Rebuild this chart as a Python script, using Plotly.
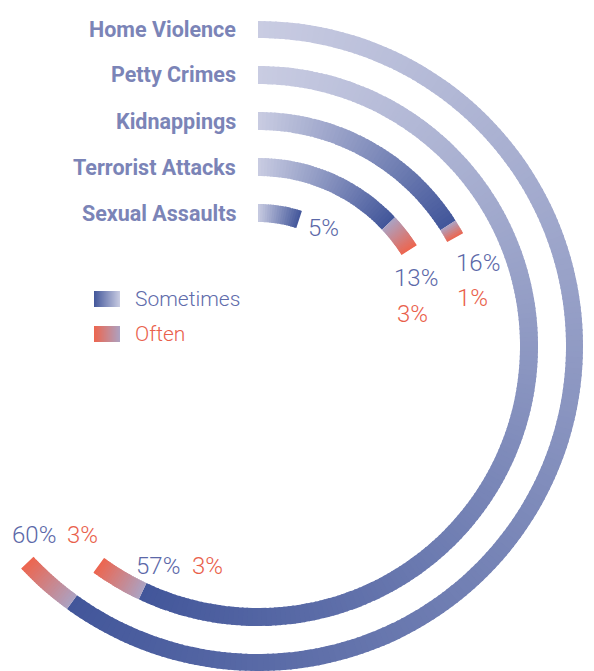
import plotly.graph_objects as go

# ---------------- data ----------------
categories = ["Home Violence", "Petty Crimes", "Kidnappings", "Terrorist Attacks", "Sexual Assaults"]
sometimes = [60, 57, 16, 13, 5]
often = [3, 3, 1, 3, 0]
series_names = ["Sometimes", "Often"]

# ---------------- style / layout ----------------
PAGE_W, PAGE_H = 594, 671
OFF = 8                    # default body margin of the html page
W, H = PAGE_W - OFF, PAGE_H - OFF
CX, CY = 258, 346          # page-pixel centre of the rings
R_MAX = 325                # pixel radius of the polar range
R_OUTER = 317              # centre radius of outermost ring
STEP = 46                  # ring spacing
THICK = 18                 # ring thickness

SOME_START = (201, 204, 226)
SOME_END = (66, 86, 154)
OFTEN_START = (172, 162, 194)
OFTEN_END = (237, 101, 78)

LABEL_COLOR = "#7b84b7"
BLUE_TXT = "#5b68a8"
RED_TXT = "#e9604b"
FONT = "Roboto, 'Liberation Sans', sans-serif"


def lerp(c0, c1, t):
    return "rgb(%d,%d,%d)" % tuple(round(a + (b - a) * t) for a, b in zip(c0, c1))


def segments(start_deg, end_deg, c0, c1, per_deg=1.0):
    span = end_deg - start_deg
    n = max(4, int(round(span / per_deg)))
    step = span / n
    thetas, widths, colors = [], [], []
    for k in range(n):
        a0 = start_deg + k * step
        a1 = a0 + step
        ext = 0.35 if k < n - 1 else 0.0
        thetas.append((a0 + a1 + ext) / 2)
        widths.append(step + ext)
        colors.append(lerp(c0, c1, (k + 0.5) / n))
    return thetas, widths, colors


def px(x, y):
    """page pixel -> paper fraction"""
    return (x - OFF) / W, 1 - (y - OFF) / H


fig = go.Figure()

for i, cat in enumerate(categories):
    rc = R_OUTER - i * STEP
    s_deg = sometimes[i] * 3.6
    o_deg = often[i] * 3.6
    th, wd, col = segments(0, s_deg, SOME_START, SOME_END)
    fig.add_trace(go.Barpolar(
        theta=th, width=wd, r=[THICK] * len(th), base=[rc - THICK / 2] * len(th),
        marker=dict(color=col, line=dict(width=0)), hoverinfo="skip", showlegend=False,
        name=cat + " " + series_names[0]))
    if often[i] > 0:
        th, wd, col = segments(s_deg, s_deg + o_deg, OFTEN_START, OFTEN_END, per_deg=0.5)
        fig.add_trace(go.Barpolar(
            theta=th, width=wd, r=[THICK] * len(th), base=[rc - THICK / 2] * len(th),
            marker=dict(color=col, line=dict(width=0)), hoverinfo="skip", showlegend=False,
            name=cat + " " + series_names[1]))

annotations = []

# category labels, aligned with ring centres
for i, cat in enumerate(categories):
    rc = R_OUTER - i * STEP
    x, y = px(238, CY - rc)
    annotations.append(dict(x=x, y=y, xref="paper", yref="paper", text="<b>%s</b>" % cat,
                            xanchor="right", yanchor="middle", showarrow=False,
                            font=dict(family=FONT, size=21.5, color=LABEL_COLOR)))

# value label anchors (page pixels): (sometimes_xy, often_xy)
value_pos = {
    "Home Violence": ((10, 535), (65, 535)),
    "Petty Crimes": ((134, 566), (190, 566)),
    "Kidnappings": ((454, 263), (455, 298)),
    "Terrorist Attacks": ((392, 278), (395, 314)),
    "Sexual Assaults": ((306, 228), None),
}
for i, cat in enumerate(categories):
    sp, op = value_pos[cat]
    x, y = px(*sp)
    annotations.append(dict(x=x, y=y, xref="paper", yref="paper", text="%d%%" % sometimes[i],
                            xanchor="left", yanchor="middle", showarrow=False,
                            font=dict(family=FONT, size=24, color=BLUE_TXT, weight=300)))
    if often[i] > 0 and op is not None:
        x, y = px(*op)
        annotations.append(dict(x=x, y=y, xref="paper", yref="paper", text="%d%%" % often[i],
                                xanchor="left", yanchor="middle", showarrow=False,
                                font=dict(family=FONT, size=24, color=RED_TXT, weight=300)))

# legend
shapes = []
legend_rows = [(299, SOME_END, SOME_START, "#5f6cab"), (334, OFTEN_END, OFTEN_START, RED_TXT)]
for name, (yc, c0, c1, tc) in zip(series_names, legend_rows):
    n = 26
    x0, x1 = 94, 120
    for k in range(n):
        a = x0 + (x1 - x0) * k / n
        b = min(x0 + (x1 - x0) * (k + 1) / n + 0.3, x1)
        xa, ya = px(a, yc - 8)
        xb, yb = px(b, yc + 8)
        shapes.append(dict(type="rect", xref="paper", yref="paper",
                           x0=xa, x1=xb, y0=ya, y1=yb,
                           fillcolor=lerp(c0, c1, (k + 0.5) / n), line=dict(width=0), layer="above"))
    x, y = px(133, yc)
    annotations.append(dict(x=x, y=y, xref="paper", yref="paper", text=name,
                            xanchor="left", yanchor="middle", showarrow=False,
                            font=dict(family=FONT, size=21, color=tc, weight=300)))

dx0, dy0 = px(CX - 0.766 * R_MAX, CY + R_MAX)
dx1, dy1 = px(CX + R_MAX, CY - R_MAX)

fig.update_layout(
    width=W, height=H,
    margin=dict(l=0, r=0, t=0, b=0),
    paper_bgcolor="white", plot_bgcolor="white",
    showlegend=False,
    polar=dict(
        domain=dict(x=[max(dx0, 0), min(dx1, 1)], y=[max(dy0, 0), min(dy1, 1)]),
        sector=[-140, 90],
        bgcolor="rgba(0,0,0,0)",
        hole=0,
        radialaxis=dict(range=[0, R_MAX], visible=False, showgrid=False, showline=False),
        angularaxis=dict(rotation=90, direction="clockwise", visible=False,
                         showgrid=False, showline=False, thetaunit="degrees"),
    ),
    annotations=annotations,
    shapes=shapes,
)

fig.write_html("out.html")
